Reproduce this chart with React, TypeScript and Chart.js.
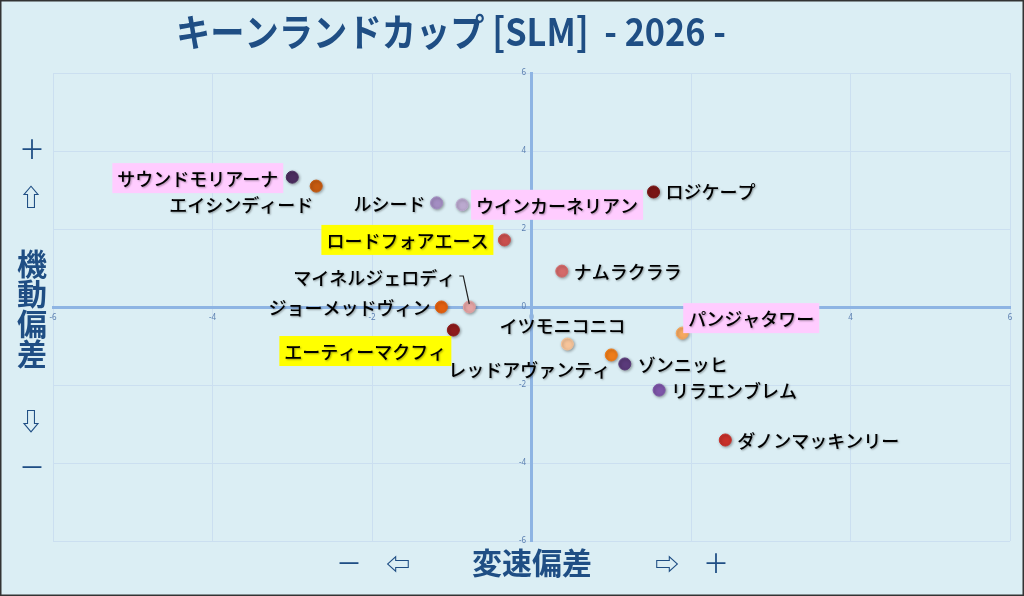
import { useEffect, useRef } from "react";
import { Chart, registerables } from "chart.js";

Chart.register(...registerables);

const horseNames = [
	"サウンドモリアーナ",
	"エイシンディード",
	"ルシード",
	"ウインカーネリアン",
	"ロードフォアエース",
	"マイネルジェロディ",
	"ジョーメッドヴィン",
	"エーティーマクフィ",
	"ロジケープ",
	"ナムラクララ",
	"パンジャタワー",
	"イツモニコニコ",
	"レッドアヴァンティ",
	"ゾンニッヒ",
	"リラエンブレム",
	"ダノンマッキンリー",
];

// 変速偏差 (x)
const speedDeviation = [
	-3.0, -2.7, -1.19, -0.87, -0.34, -0.78, -1.13, -0.98, 1.53, 0.38, 1.89,
	0.45, 1.0, 1.17, 1.6, 2.43,
];

// 機動偏差 (y)
const mobilityDeviation = [
	3.33, 3.1, 2.67, 2.62, 1.72, 0.0, 0.0, -0.59, 2.95, 0.92, -0.67, -0.95,
	-1.23, -1.46, -2.13, -3.41,
];

const xTicks = [-6, -4, -2, 0, 2, 4, 6];
const yTicks = [-6, -4, -2, 0, 2, 4, 6];

const pointColors = [
	"#4b2d5f",
	"#c55a11",
	"#a38dc2",
	"#bba9cf",
	"#c9504e",
	"#e3a4a4",
	"#e2600f",
	"#8e1b1b",
	"#7a1515",
	"#d46a6a",
	"#f5a860",
	"#f6c49a",
	"#ee7d1a",
	"#5a3a7a",
	"#7d55a8",
	"#c8302a",
];

// label placement around each point
type Place = {
	align: "left" | "right" | "center";
	dx: number;
	dy: number;
	bg?: string;
	leader?: boolean;
};
const labelPlaces: Place[] = [
	{ align: "right", dx: -14, dy: 1, bg: "#ffccff" },
	{ align: "right", dx: -3, dy: 18 },
	{ align: "right", dx: -11, dy: 0 },
	{ align: "left", dx: 14, dy: 0, bg: "#ffccff" },
	{ align: "right", dx: -16, dy: 0, bg: "#ffff00" },
	{ align: "right", dx: -14, dy: -30, leader: true },
	{ align: "right", dx: -11, dy: 0 },
	{ align: "right", dx: -7, dy: 21, bg: "#ffff00" },
	{ align: "left", dx: 12, dy: -1 },
	{ align: "left", dx: 12, dy: 0 },
	{ align: "left", dx: 6, dy: -15, bg: "#ffccff" },
	{ align: "center", dx: -5, dy: -19 },
	{ align: "right", dx: -1, dy: 14 },
	{ align: "left", dx: 13, dy: 0 },
	{ align: "left", dx: 12, dy: 0 },
	{ align: "left", dx: 12, dy: 0 },
];

const NAVY = "#1f4e84";
const JP = "'Noto Sans CJK JP', 'Noto Sans', sans-serif";

const framePlugin = {
	id: "frame",
	beforeDraw(chart: Chart) {
		const { ctx, width, height } = chart;
		ctx.save();
		ctx.fillStyle = "#dbeef4";
		ctx.fillRect(0, 0, width, height);
		ctx.strokeStyle = "#333";
		ctx.lineWidth = 3;
		ctx.strokeRect(0, 0, width, height);
		ctx.restore();
	},
	beforeDatasetDraw(chart: Chart) {
		const ctx = chart.ctx;
		ctx.save();
		ctx.shadowColor = "rgba(0,0,0,0.35)";
		ctx.shadowBlur = 3;
		ctx.shadowOffsetX = 1;
		ctx.shadowOffsetY = 1;
	},
	afterDatasetDraw(chart: Chart) {
		chart.ctx.restore();
	},
	afterDraw(chart: Chart) {
		const ctx = chart.ctx;
		ctx.save();
		// title, condensed
		ctx.fillStyle = NAVY;
		ctx.font = `bold 38px ${JP}`;
		ctx.textBaseline = "middle";
		ctx.textAlign = "left";
		const title = "キーンランドカップ [SLM]  - 2026 -";
		const w = ctx.measureText(title).width;
		ctx.save();
		ctx.translate(176, 32);
		ctx.scale(550 / w, 1);
		ctx.fillText(title, 0, 0);
		ctx.restore();

		// axis captions
		ctx.textAlign = "center";
		ctx.font = `26px ${JP}`;
		ctx.fillText("＋", 32, 149);
		ctx.fillText("－", 32, 467);
		ctx.fillText("＋", 716, 563);
		ctx.fillText("－", 349, 563);
		ctx.font = `bold 24px ${JP}`;
		ctx.fillText("⇧", 31, 197);
		ctx.fillText("⇩", 31, 421);
		ctx.fillText("⇦", 398, 564);
		ctx.fillText("⇨", 667, 564);
		ctx.font = `bold 30px ${JP}`;
		["機", "動", "偏", "差"].forEach((c, i) => {
			ctx.fillText(c, 32, 264 + i * 30);
		});
		ctx.fillText("変速偏差", 532, 563);

		// point labels
		const meta = chart.getDatasetMeta(0);
		ctx.font = `500 18px ${JP}`;
		horseNames.forEach((name, i) => {
			const el = meta.data[i];
			const p = labelPlaces[i];
			const tx = el.x + p.dx;
			const ty = el.y + p.dy;
			const tw = ctx.measureText(name).width;
			const left =
				p.align === "left" ? tx : p.align === "right" ? tx - tw : tx - tw / 2;
			if (p.bg) {
				ctx.fillStyle = p.bg;
				ctx.fillRect(left - 5, ty - 15, tw + 10, 30);
			}
			if (p.leader) {
				ctx.strokeStyle = "#222";
				ctx.lineWidth = 1.2;
				ctx.beginPath();
				ctx.moveTo(left + tw + 4, ty - 1);
				ctx.lineTo(left + tw + 8, ty - 1);
				ctx.lineTo(el.x, el.y - 3);
				ctx.stroke();
			}
			ctx.save();
			ctx.shadowColor = "rgba(0,0,0,0.35)";
			ctx.shadowBlur = 2;
			ctx.shadowOffsetX = 1;
			ctx.shadowOffsetY = 1;
			ctx.fillStyle = "#000";
			ctx.textAlign = "left";
			ctx.fillText(name, left, ty + 1);
			ctx.restore();
		});
		ctx.restore();
	},
};

export default function App() {
	const canvasRef = useRef<HTMLCanvasElement | null>(null);
	const chartRef = useRef<Chart | null>(null);

	useEffect(() => {
		if (!canvasRef.current) return;
		const tickFont = { size: 8, family: "'Noto Sans', sans-serif" };
		chartRef.current = new Chart(canvasRef.current, {
			type: "scatter",
			data: {
				datasets: [
					{
						label: "偏差",
						data: speedDeviation.map((x, i) => ({
							x,
							y: mobilityDeviation[i],
						})),
						backgroundColor: pointColors,
						borderColor: pointColors,
						borderWidth: 1,
						pointRadius: 6,
					},
				],
			},
			options: {
				animation: false,
				responsive: true,
				maintainAspectRatio: false,
				layout: { padding: { left: 53, right: 14, top: 73, bottom: 55 } },
				plugins: {
					legend: { display: false },
					tooltip: { enabled: false },
				},
				scales: {
					x: {
						type: "linear",
						position: { y: 0 },
						min: -6,
						max: 6,
						afterBuildTicks: (s) => {
							s.ticks = xTicks.map((value) => ({ value }));
						},
						grid: { color: "#cbdff0", lineWidth: 1, drawTicks: false },
						border: { color: "#8eb4e3", width: 3 },
						ticks: { color: "#5b7fb0", font: tickFont, padding: 6 },
					},
					y: {
						type: "linear",
						position: { x: 0 },
						min: -6,
						max: 6,
						afterBuildTicks: (s) => {
							s.ticks = yTicks.map((value) => ({ value }));
						},
						grid: { color: "#cbdff0", lineWidth: 1, drawTicks: false },
						border: { color: "#8eb4e3", width: 3 },
						ticks: {
							color: "#5b7fb0",
							font: tickFont,
							// keep the labels clear of the centred axis line
							callback: (v) => `${v}\u2002\u2009`,
						},
					},
				},
			},
			plugins: [framePlugin],
		});
		return () => {
			chartRef.current?.destroy();
		};
	}, []);

	return (
		<div
			style={{
				position: "absolute",
				left: 0,
				top: 0,
				width: 1024,
				height: 596,
			}}
		>
			<canvas ref={canvasRef}></canvas>
		</div>
	);
}
